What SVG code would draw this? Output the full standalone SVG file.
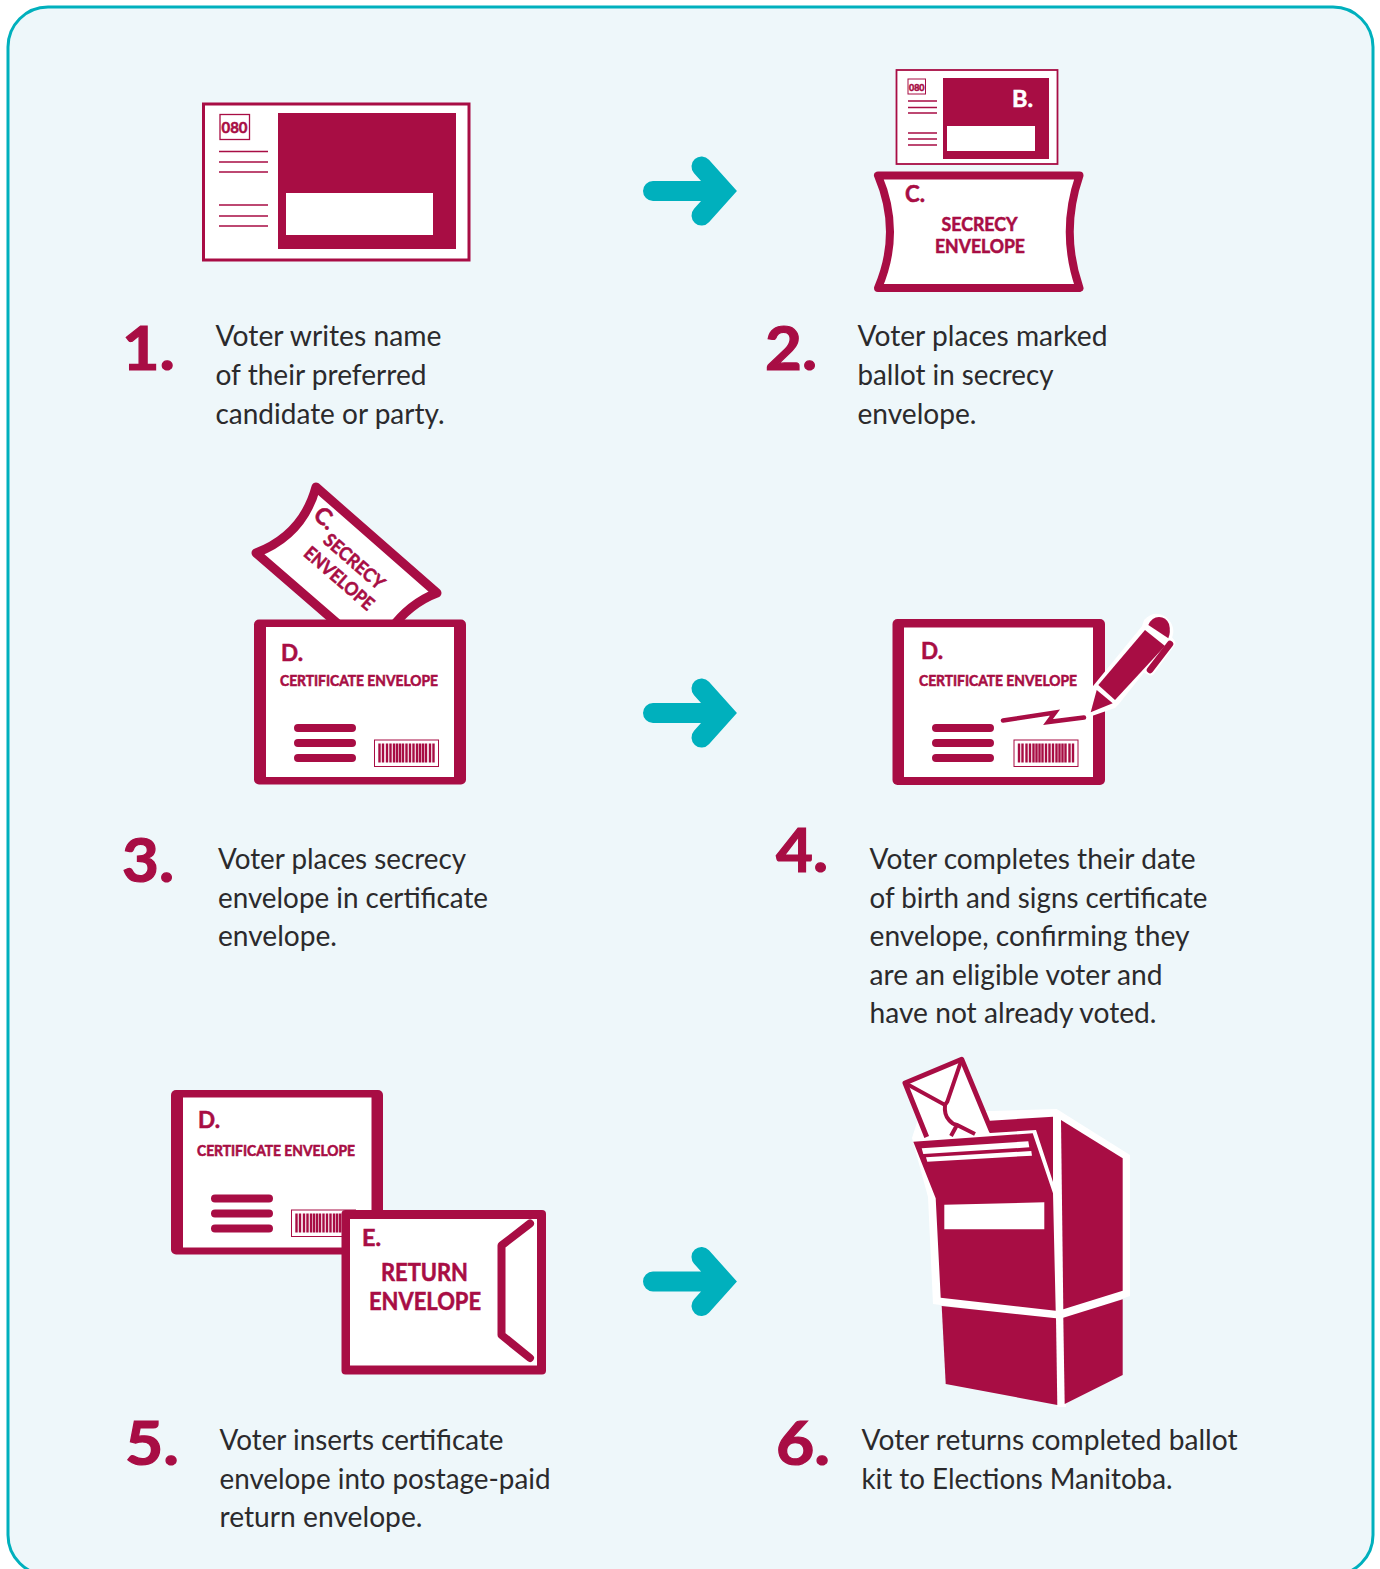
<svg xmlns="http://www.w3.org/2000/svg" width="1380" height="1569" viewBox="0 0 1380 1569">
<style>
.c{fill:#a80d44}
.w{fill:#fff}
.ln{stroke:#a80d44;fill:none;stroke-width:1.3}
.rl{stroke:#a80d44;fill:none;stroke-width:8;stroke-linecap:round;stroke-linejoin:round}
.b{font-family:Lato,"Noto Sans","Liberation Sans",sans-serif;font-size:28px;fill:#2b2a2c}
.n{font-family:Lato,"Noto Sans","Liberation Sans",sans-serif;font-size:61px;font-weight:700;fill:#a80d44;stroke:#a80d44;stroke-width:1.2}
.l{font-family:Lato,"Noto Sans","Liberation Sans",sans-serif;font-weight:700;fill:#a80d44;stroke:#a80d44;stroke-width:.55}
.arrow{fill:none;stroke:#00b0bd;stroke-width:20;stroke-linecap:round;stroke-linejoin:miter}
</style>
<defs>
<g id="barcode">
<rect x="0.5" y="0.5" width="64" height="26.5" fill="#fff" stroke="#a80d44" stroke-width="1"/>
<path d="M5.500 4V23M9 4V23M13 4V23M16.500 4V23M20 4V23M23 4V23M26 4V23M29 4V23M32.500 4V23M36 4V23M39.500 4V23M43 4V23M46 4V23M49 4V23M52 4V23M56 4V23M59.500 4V23" stroke="#a80d44" stroke-width="2.400" fill="none"/>
</g>
<g id="lines">
<path class="rl" d="M4 4H58M4 19H58M4 34H58"/>
</g>
</defs>
<rect id="panel" x="8" y="7" width="1365" height="1568" rx="40" ry="40" fill="#eef7fa" stroke="#00b0bd" stroke-width="3"/>

<g id="connectors">
<path class="arrow" d="M653 191H718M701.500 166.500L723.500 191L701.500 215.500"/>
<path class="arrow" d="M653 713H718M701.500 688.500L723.500 713L701.500 737.500"/>
<path class="arrow" d="M653 1281.500H718M701.500 1257L723.500 1281.500L701.500 1306"/>
</g>

<g id="step1">
<rect x="203.500" y="104" width="265.500" height="156" fill="#fff" stroke="#a80d44" stroke-width="3"/>
<rect class="c" x="278" y="113" width="178" height="136"/>
<rect class="w" x="286" y="193" width="147" height="42"/>
<rect x="220" y="114.500" width="29.500" height="25" fill="#fff" stroke="#a80d44" stroke-width="1.300"/>
<text class="l" x="221.500" y="133" font-size="14.500" textLength="26" lengthAdjust="spacingAndGlyphs">080</text>
<path class="ln" d="M219 151.500H268M219 162H268M219 172H268M219 205H268M219 216H268M219 226H268"/>
<text class="n" x="122" y="370" textLength="53" lengthAdjust="spacingAndGlyphs">1.</text>
<text class="b" x="215.500" y="346" textLength="226" lengthAdjust="spacingAndGlyphs">Voter writes name</text>
<text class="b" x="215.500" y="385" textLength="211" lengthAdjust="spacingAndGlyphs">of their preferred</text>
<text class="b" x="215.500" y="423.500" textLength="229" lengthAdjust="spacingAndGlyphs">candidate or party.</text>
</g>

<g id="step2">
<rect x="896.500" y="70" width="161" height="94" fill="#fff" stroke="#a80d44" stroke-width="1.800"/>
<rect class="c" x="943" y="78" width="106" height="81"/>
<rect class="w" x="947" y="126" width="88" height="25"/>
<rect x="908" y="79" width="17.500" height="15" fill="#fff" stroke="#a80d44" stroke-width="1"/>
<text class="l" x="909" y="90.500" font-size="9" textLength="15.500" lengthAdjust="spacingAndGlyphs">080</text>
<path class="ln" d="M908 101H937M908 107.500H937M908 113H937M908 133H937M908 139H937M908 145H937"/>
<text class="l" x="1012" y="106.500" font-size="23" style="fill:#fff;stroke:#fff" textLength="21" lengthAdjust="spacingAndGlyphs">B.</text>
<path d="M878 175.500H1079.500Q1060 232 1079.500 288H878Q902 232 878 175.500Z" fill="#fff" stroke="#a80d44" stroke-width="8" stroke-linejoin="round"/>
<text class="l" x="905" y="202" font-size="23" textLength="20" lengthAdjust="spacingAndGlyphs">C.</text>
<text class="l" x="941.500" y="231" font-size="18.500" textLength="76" lengthAdjust="spacingAndGlyphs">SECRECY</text>
<text class="l" x="935" y="253" font-size="18.500" textLength="90" lengthAdjust="spacingAndGlyphs">ENVELOPE</text>
<text class="n" x="765" y="370" textLength="52" lengthAdjust="spacingAndGlyphs">2.</text>
<text class="b" x="857.500" y="346" textLength="250" lengthAdjust="spacingAndGlyphs">Voter places marked</text>
<text class="b" x="857.500" y="385" textLength="196" lengthAdjust="spacingAndGlyphs">ballot in secrecy</text>
<text class="b" x="857.500" y="423.500" textLength="119" lengthAdjust="spacingAndGlyphs">envelope.</text>
</g>

<g id="step3">
<path d="M316 487L437 593Q410 603 390 630H345L256 553Q303 535 316 487Z" fill="#fff" stroke="#a80d44" stroke-width="9" stroke-linejoin="round"/>
<text class="l" font-size="23" transform="translate(312 517) rotate(41)" textLength="21" lengthAdjust="spacingAndGlyphs">C.</text>
<text class="l" font-size="18.500" transform="translate(322 542) rotate(41)" textLength="74" lengthAdjust="spacingAndGlyphs">SECRECY</text>
<text class="l" font-size="18.500" transform="translate(302.500 555) rotate(41)" textLength="86" lengthAdjust="spacingAndGlyphs">ENVELOPE</text>
<rect class="c" x="254" y="619.500" width="212" height="165" rx="5"/>
<rect class="w" x="266" y="627" width="188" height="150"/>
<text class="l" x="281" y="660.500" font-size="23" textLength="22" lengthAdjust="spacingAndGlyphs">D.</text>
<text class="l" x="280" y="685.500" font-size="14.500" textLength="158" lengthAdjust="spacingAndGlyphs">CERTIFICATE ENVELOPE</text>
<use href="#lines" x="294" y="724"/>
<use href="#barcode" x="374" y="739.500"/>
<text class="n" x="122" y="882" textLength="52" lengthAdjust="spacingAndGlyphs">3.</text>
<text class="b" x="218" y="869" textLength="248" lengthAdjust="spacingAndGlyphs">Voter places secrecy</text>
<text class="b" x="218" y="907.500" textLength="270" lengthAdjust="spacingAndGlyphs">envelope in certificate</text>
<text class="b" x="218" y="946" textLength="119" lengthAdjust="spacingAndGlyphs">envelope.</text>
</g>

<g id="step4">
<rect class="c" x="892.500" y="619" width="212.500" height="166" rx="5"/>
<rect class="w" x="904" y="627.500" width="189" height="149.500"/>
<text class="l" x="921" y="658.500" font-size="23" textLength="22" lengthAdjust="spacingAndGlyphs">D.</text>
<text class="l" x="919" y="685.500" font-size="14.500" textLength="158" lengthAdjust="spacingAndGlyphs">CERTIFICATE ENVELOPE</text>
<use href="#lines" x="932" y="724"/>
<use href="#barcode" x="1013.500" y="739.500"/>
<path d="M1003 720.500L1055 712.500L1048 722L1084 717.500" fill="none" stroke="#a80d44" stroke-width="4.500" stroke-linecap="round" stroke-linejoin="miter"/>
<path d="M1090 713L1096 688L1145 628L1147 622Q1155 614 1164 620Q1173 628 1168 638L1172 643L1151 672L1143 668L1116 702L1113 705Z" fill="#fff" stroke="#fff" stroke-width="7" stroke-linejoin="round"/>
<path class="c" d="M1090.700 712.300L1096.700 690L1112.700 703.300Z"/>
<path class="c" d="M1098.300 685L1145 630L1165 646L1115 700Z"/>
<path class="c" d="M1148.300 625Q1152 617 1159 617Q1166 617 1169 624Q1171 632 1168.300 638.300Z"/>
<path d="M1170 644L1150 670" fill="none" stroke="#a80d44" stroke-width="6.500" stroke-linecap="round"/>
<text class="n" x="776" y="872" textLength="52" lengthAdjust="spacingAndGlyphs">4.</text>
<text class="b" x="869.500" y="869" textLength="326" lengthAdjust="spacingAndGlyphs">Voter completes their date</text>
<text class="b" x="869.500" y="907.500" textLength="338" lengthAdjust="spacingAndGlyphs">of birth and signs certificate</text>
<text class="b" x="869.500" y="946" textLength="320" lengthAdjust="spacingAndGlyphs">envelope, confirming they</text>
<text class="b" x="869.500" y="984.500" textLength="293" lengthAdjust="spacingAndGlyphs">are an eligible voter and</text>
<text class="b" x="869.500" y="1022.500" textLength="287" lengthAdjust="spacingAndGlyphs">have not already voted.</text>
</g>

<g id="step5">
<rect class="c" x="171" y="1090" width="212" height="164.500" rx="5"/>
<rect class="w" x="183" y="1097.500" width="188.500" height="150"/>
<text class="l" x="198" y="1127.500" font-size="23" textLength="22" lengthAdjust="spacingAndGlyphs">D.</text>
<text class="l" x="197" y="1156" font-size="14.500" textLength="158" lengthAdjust="spacingAndGlyphs">CERTIFICATE ENVELOPE</text>
<use href="#lines" x="211" y="1194.500"/>
<use href="#barcode" x="291" y="1209.500"/>
<rect class="c" x="341.500" y="1210" width="204.500" height="164.500" rx="4"/>
<rect class="w" x="350" y="1219" width="187" height="146.500"/>
<text class="l" x="362" y="1245.500" font-size="23" textLength="19" lengthAdjust="spacingAndGlyphs">E.</text>
<text class="l" x="381" y="1280.500" font-size="24" textLength="87" lengthAdjust="spacingAndGlyphs">RETURN</text>
<text class="l" x="369" y="1309.500" font-size="24" textLength="112" lengthAdjust="spacingAndGlyphs">ENVELOPE</text>
<path class="rl" d="M530 1223.500L501.500 1245.500V1335L530 1358"/>
<text class="n" x="125" y="1465" textLength="54" lengthAdjust="spacingAndGlyphs">5.</text>
<text class="b" x="219.500" y="1450" textLength="284" lengthAdjust="spacingAndGlyphs">Voter inserts certificate</text>
<text class="b" x="219.500" y="1489" textLength="331" lengthAdjust="spacingAndGlyphs">envelope into postage-paid</text>
<text class="b" x="219.500" y="1527" textLength="203" lengthAdjust="spacingAndGlyphs">return envelope.</text>
</g>

<g id="step6">
<path class="w" d="M920 1113L1056.700 1109L1130 1155L1130 1296L1064 1319L1066 1407L1057 1407L1056 1320L933 1304L928 1197L912 1138Z"/>
<path d="M926.700 1137L905 1083L961.700 1059.300L991.700 1131.700" fill="#fff" stroke="#a80d44" stroke-width="5" stroke-linejoin="round"/>
<path d="M905 1083L945 1105L947.300 1101.700L961.700 1059.300" fill="none" stroke="#a80d44" stroke-width="4"/>
<path d="M945 1105Q944 1115 949 1120Q952 1124 957 1125L975 1134M957 1125L951 1136" fill="none" stroke="#a80d44" stroke-width="4"/>
<path class="c" d="M990 1120.700L1053 1116.700L1053 1182L1036 1130L990 1133Z"/>
<path class="c" d="M1061 1120L1122.700 1158.300L1122.700 1290.700L1063.300 1309.300Z"/>
<path class="c" d="M913.300 1141.700L1032.700 1133.300L1053 1193.300L1055.700 1310.700L940.700 1297.700L935.700 1198.300Z"/>
<path class="w" d="M944.300 1204.700L1044.300 1202.300V1229.300H944.300Z"/>
<path class="w" d="M921.700 1148.300L1028.300 1141.300L1029.300 1147.300L923.300 1154Z"/>
<path class="w" d="M926 1157.300L1031.300 1151L1032 1155.700L927.300 1161.700Z"/>
<path class="c" d="M941.700 1306L1056 1318.300L1057.300 1405L945.700 1384Z"/>
<path class="c" d="M1063.300 1317.700L1122.700 1299.300V1375L1064.700 1404Z"/>
<text class="n" x="776" y="1465" textLength="54" lengthAdjust="spacingAndGlyphs">6.</text>
<text class="b" x="861.500" y="1450" textLength="376" lengthAdjust="spacingAndGlyphs">Voter returns completed ballot</text>
<text class="b" x="861.500" y="1489" textLength="311" lengthAdjust="spacingAndGlyphs">kit to Elections Manitoba.</text>
</g>
</svg>
